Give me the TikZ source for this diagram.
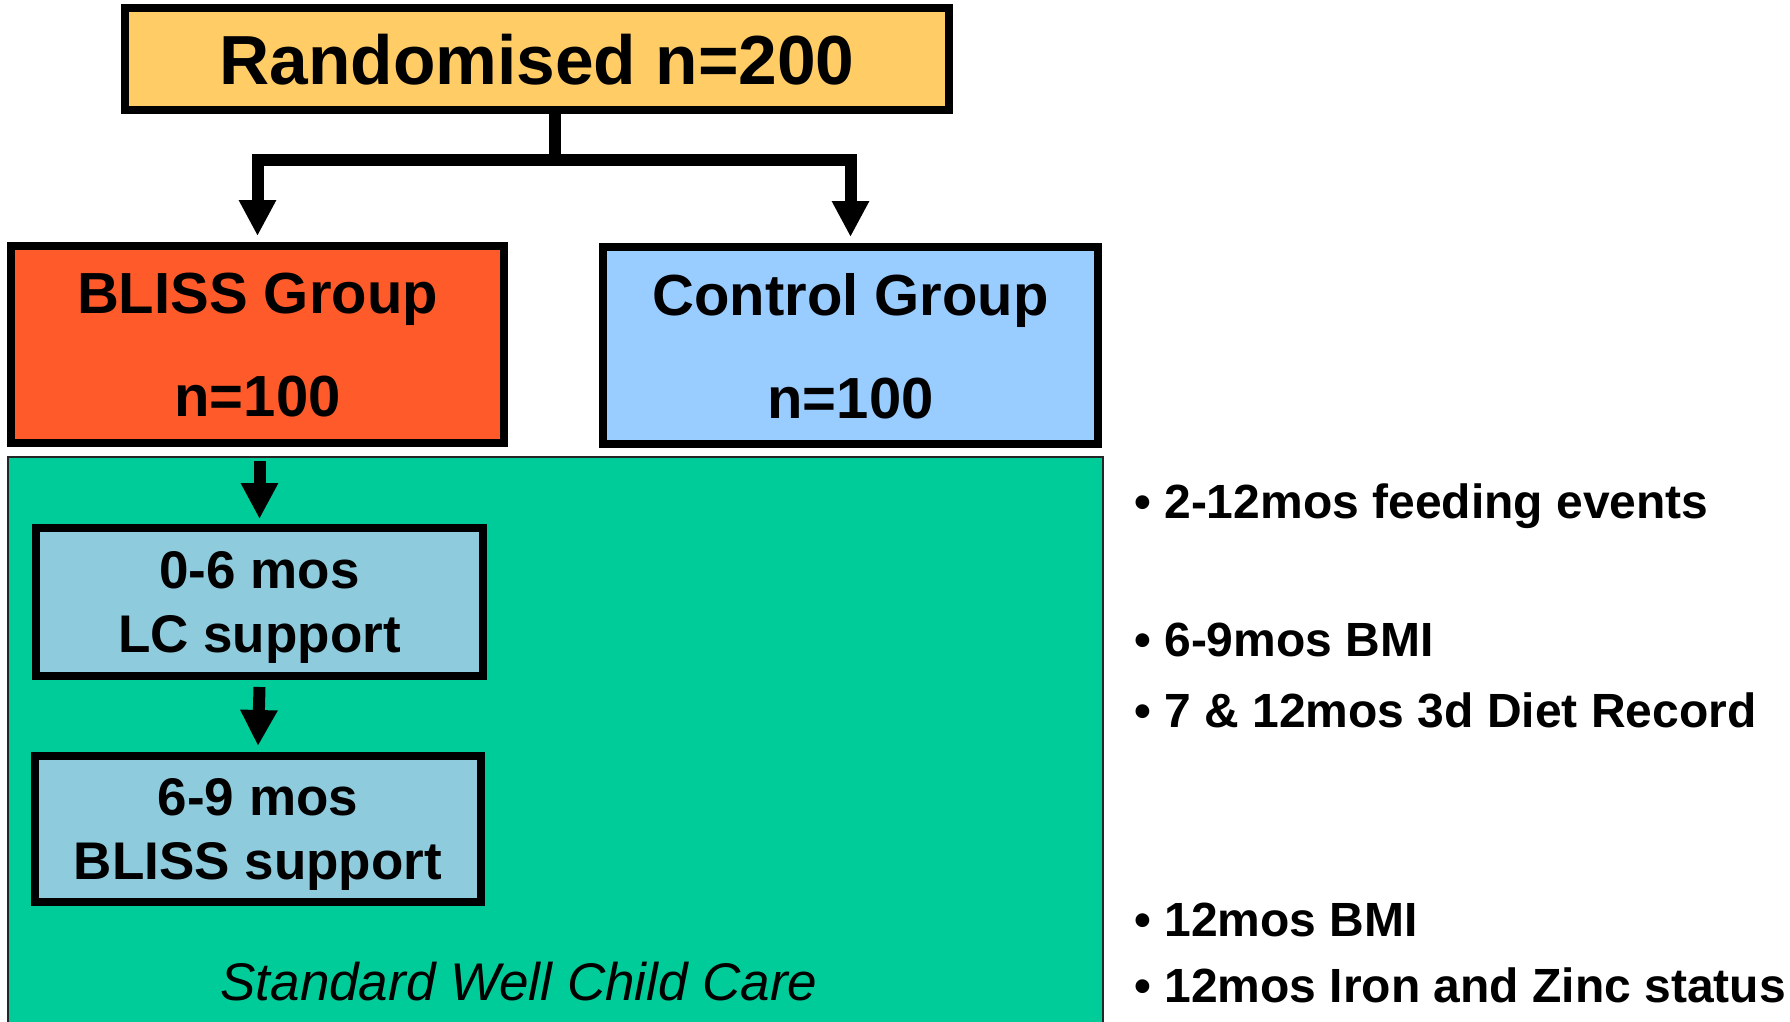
\documentclass[tikz,border=0pt]{standalone}
\usepackage{fontspec}
\setmainfont{Liberation Sans}
\usetikzlibrary{arrows.meta}
\definecolor{randfill}{HTML}{FFCC66}
\definecolor{blissfill}{HTML}{FF5A2A}
\definecolor{ctrlfill}{HTML}{99CCFF}
\definecolor{carefill}{HTML}{00CC99}
\definecolor{stagefill}{HTML}{8ECBDD}
\begin{document}
\begin{tikzpicture}[x=1pt,y=-1pt,
  box/.style={draw=black, line width=8pt, inner sep=0pt, align=center, text depth=0pt},
  conn/.style={line width=12pt, -{Triangle[width=35pt,length=36pt]}},
  grouptxt/.style={font=\fontsize{58}{103}\selectfont\bfseries},
  stagetxt/.style={font=\fontsize{53}{64}\selectfont\bfseries},
  bullettxt/.style={anchor=base west, inner sep=0pt, font=\fontsize{48}{56}\selectfont\bfseries}
]
\useasboundingbox (0,0) rectangle (1790,1022);

% background care box
\node[draw=black!85, line width=1.5pt, fill=carefill, inner sep=0pt,
      minimum width=1095pt, minimum height=580pt] (care) at (555.5,747) {};
\node[anchor=base, inner sep=0pt, font=\fontsize{53}{60}\selectfont\itshape] (swcc) at (519,1000) {Standard Well Child Care};

% top box
\node[box, fill=randfill, minimum width=824pt, minimum height=102pt,
      font=\fontsize{69.5}{80}\selectfont\bfseries] (rand) at (537,59) {Randomised n=200};

% group boxes
\node[box, grouptxt, fill=blissfill, minimum width=493pt, minimum height=197pt] (bliss) at (257.5,344.5) {BLISS Group\\n=100};
\node[box, grouptxt, fill=ctrlfill, minimum width=495pt, minimum height=197pt] (ctrl) at (850.5,345.5) {Control Group\\n=100};

% stage boxes
\node[box, stagetxt, fill=stagefill, minimum width=447pt, minimum height=148pt] (b06) at (259.5,602) {0-6 mos\\LC support};
\node[box, stagetxt, fill=stagefill, minimum width=446pt, minimum height=146pt] (b69) at (258,829) {6-9 mos\\BLISS support};

% connectors
\coordinate (split) at (555,160);
\draw[line width=12pt] (rand.south -| split) -- (split);
\draw[conn] (split) -| ([yshift=6pt]bliss.north);
\draw[conn] (split) -| ([yshift=6pt]ctrl.north);
\draw[conn] ([yshift=-14pt]bliss.south -| b06.north) -- ([yshift=5pt]b06.north);
\draw[conn] ([yshift=-7pt]b06.south) -- ([yshift=6pt]b69.north);

% outcome list
\node[bullettxt] (o1) at (1134,518) {• 2-12mos feeding events};
\node[bullettxt] (o2) at (1134,656) {• 6-9mos BMI};
\node[bullettxt] (o3) at (1134,727) {• 7 \& 12mos 3d Diet Record};
\node[bullettxt] (o4) at (1134,936) {• 12mos BMI};
\node[bullettxt] (o5) at (1134,1002) {• 12mos Iron and Zinc status};
\end{tikzpicture}
\end{document}
